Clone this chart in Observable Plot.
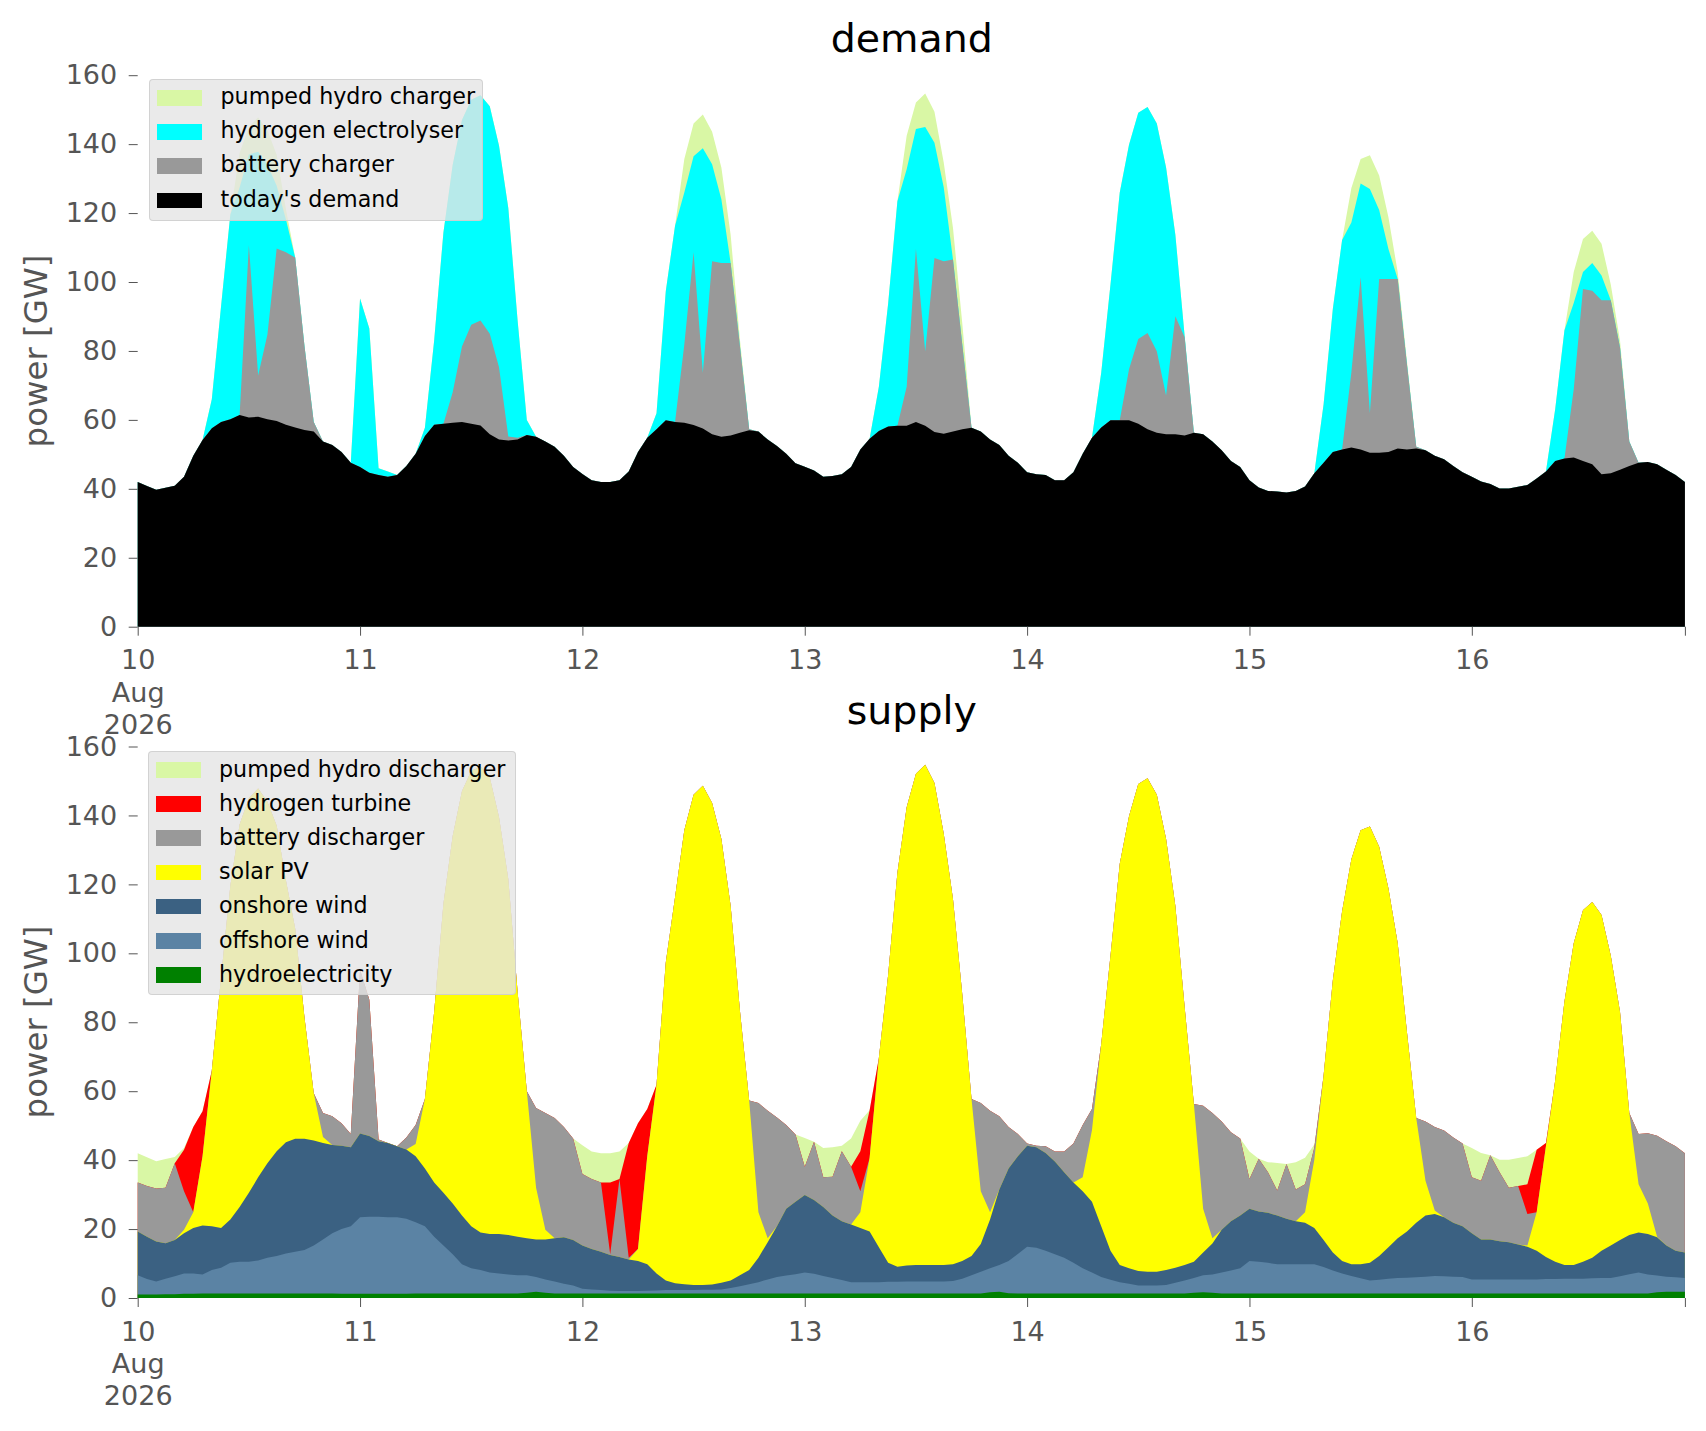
<!DOCTYPE html>
<html>
<head>
<meta charset="utf-8">
<script src="https://cdn.jsdelivr.net/npm/d3@7"></script>
<script src="https://cdn.jsdelivr.net/npm/@observablehq/plot@0.6"></script>
<style>
html,body{margin:0;padding:0;background:#fff;}
#root{position:relative;width:1706px;height:1431px;overflow:hidden;font-family:"DejaVu Sans",sans-serif;}
.panel{position:absolute;left:0;}
.legend{position:absolute;background:rgba(229,229,229,0.8);border:1px solid rgba(204,204,204,0.8);border-radius:4px;box-sizing:border-box;}
.legend .sw{position:absolute;width:45px;height:15.5px;}
.legend .lb{position:absolute;font-size:22.2px;line-height:1;color:#000;white-space:nowrap;}
.ylab{position:absolute;font-size:32.4px;line-height:1;color:#555555;white-space:nowrap;transform:translate(-50%,-50%) rotate(-90deg);}
</style>
</head>
<body>
<div id="root"></div>
<script>
// ---------- time axis (hourly, 10 Aug 2026 00:00 .. 16 Aug 2026 23:00) ----------
const startMs = Date.UTC(2026, 7, 10);
const dates = d3.range(168).map(h => new Date(startMs + h * 3600000));
const xTickDates = [0, 24, 48, 72, 96, 120, 144, 167].map(h => dates[h]);
const xTickLabels = ["10\nAug\n2026", "11", "12", "13", "14", "15", "16", ""];
const yTicks = [0, 20, 40, 60, 80, 100, 120, 140, 160];
const yLabel = "power [GW]";

// ---------- DEMAND (GW) ----------
const demandNames = ["today's demand", "battery charger", "hydrogen electrolyser", "pumped hydro charger"];
const demandColors = ["#000000", "#999999", "#00ffff", "#d9f7a5"];

const todaysDemand = [
42.0,40.8,39.7,40.3,40.9,43.5,49.6,54.2,57.6,59.4,60.2,61.4,60.7,60.9,60.2,59.7,58.6,57.8,57.1,56.6,53.7,52.7,50.7,47.6,
46.3,44.7,44.0,43.5,44.0,46.6,50.2,55.3,58.6,58.9,59.2,59.4,58.9,58.4,55.8,54.3,54.0,54.3,55.6,55.1,53.7,52.2,49.6,46.3,
44.3,42.5,42.0,42.0,42.5,45.0,50.7,54.8,57.3,59.9,59.4,59.2,58.5,57.5,55.8,55.1,55.5,56.3,57.0,56.6,54.3,52.4,50.2,47.4,
46.4,45.3,43.5,43.7,44.2,46.3,51.4,54.5,56.8,58.1,58.3,58.3,59.4,58.3,56.5,56.0,56.6,57.3,57.7,56.6,54.3,52.7,49.6,47.6,
44.8,44.2,44.0,42.5,42.5,44.8,50.2,54.8,57.8,59.9,59.9,59.9,58.9,57.3,56.3,55.8,55.8,55.5,56.3,55.8,53.7,51.2,48.1,46.3,
42.5,40.4,39.4,39.2,38.9,39.4,40.7,44.5,47.6,50.7,51.4,52.0,51.4,50.5,50.5,50.7,51.7,51.4,51.7,51.2,49.6,48.6,46.6,44.8,
43.5,42.1,41.4,40.1,40.1,40.6,41.1,43.0,45.0,48.1,48.8,49.1,48.1,47.1,44.2,44.5,45.5,46.6,47.6,47.8,47.1,45.5,44.0,42.0];

const batteryCharger = [
0,0,0,0,0,0,0,0,0,0,0,0,50,12,24.5,50,50,49.3,24.3,2.8,0,0,0,0,
0,0,0,0,0,0,0,0,0,0,8.8,21.9,28.7,30.4,29.2,21,1.2,0.5,0,0,0,0,0,0,
0,0,0,0,0,0,0,0,0,0,0,22.7,50.1,16.2,50.2,50.4,50,25.1,0.3,0,0,0,0,0,
0,0,0,0,0,0,0,0,0,0,0,11.3,50.2,21.6,50.5,50,49.9,24.6,0,0,0,0,0,0,
0,0,0,0,0,0,0,0,0,0,0,14.8,24.6,27.9,23.6,11.3,34.3,28.5,0,0,0,0,0,0,
0,0,0,0,0,0,0,0,0,0,0,21.8,50,11.5,50.4,50.2,49.2,24.7,0.5,0,0,0,0,0,
0,0,0,0,0,0,0,0,0,0,0,19.8,49.9,50.4,50.5,50.2,35.4,7.1,0,0,0,0,0,0];

const hydrogenElectrolyser = [
0,0,0,0,0,0,0,0,8.4,33.6,59.4,66,26.3,64.9,49.3,18.2,9.5,0,0,0,0,0,0,0,
48.9,41.8,2,1.5,0,0,0,2.4,24.4,55.5,66,65.7,65.3,65.4,66,64.2,66.3,34.2,4.4,0,0,0,0,0,
0,0,0,0,0,0,0,0,4.6,37.4,56.9,44.1,27.9,65.1,28.2,18.5,0,0,0,0,0,0,0,0,
0,0,0,0,0,0,0,0,12.8,35.6,65.1,63.1,34.8,65.1,33.4,21.5,0,0,0,0,0,0,0,0,
0,0,0,0,0,0,0,0,15.9,39.4,66.1,65.1,65.6,65.6,66.1,66.1,23.6,0.5,0,0,0,0,0,0,
0,0,0,0,0,0,0,0,16.9,41.5,60.8,43.5,27.2,65,20,8.7,0,0,0,0,0,0,0,0,
0,0,0,0,0,0,0,0,0,15,37.2,25,4.9,8,7.2,0,0,0,0,0,0,0,0,0];

const pumpedHydroCharger = [
0,0,0,0,0,0,0,0,0,0,0,10,8,10,10,9,3,0,0,0,0,0,0,0,
0,0,0,0,0,0,0,0,0,0,0,0,0,0,0,0,0,0,0,0,0,0,0,0,
0,0,0,0,0,0,0,0,0,0,0,9.7,9.5,9.8,9.4,9.2,8.2,2,0,0,0,0,0,0,
0,0,0,0,0,0,0,0,0,0,0,9.7,7.7,9.7,9,7.2,9.2,6.2,0,0,0,0,0,0,
0,0,0,0,0,0,0,0,0,0,0,0,0,0,0,0,0,0,0,0,0,0,0,0,
0,0,0,0,0,0,0,0,0,0,0,10,7.1,9.8,10,9.2,2,1,0,0,0,0,0,0,
0,0,0,0,0,0,0,0,0,0,0,9,9.6,9.4,9.2,4.6,2,0,0,0,0,0,0,0];

// ---------- SUPPLY (GW) ----------
const supplyNames = ["hydroelectricity", "offshore wind", "onshore wind", "solar PV", "battery discharger", "hydrogen turbine", "pumped hydro discharger"];
const supplyColors = ["#008000", "#5b83a4", "#3b6182", "#ffff00", "#999999", "#ff0000", "#d9f7a5"];

const hydroelectricity = [
1.0,1.0,1.0,1.1,1.1,1.2,1.2,1.3,1.3,1.3,1.3,1.3,1.3,1.3,1.3,1.3,1.3,1.3,1.3,1.3,1.3,1.3,1.2,1.2,
1.2,1.2,1.2,1.2,1.2,1.2,1.3,1.3,1.3,1.3,1.3,1.3,1.3,1.3,1.3,1.3,1.3,1.3,1.5,1.8,1.5,1.3,1.3,1.3,
1.3,1.3,1.3,1.3,1.3,1.3,1.3,1.3,1.3,1.3,1.3,1.3,1.3,1.3,1.3,1.3,1.3,1.3,1.3,1.3,1.3,1.3,1.3,1.3,
1.3,1.3,1.3,1.3,1.3,1.3,1.3,1.3,1.3,1.3,1.3,1.3,1.3,1.3,1.3,1.3,1.3,1.3,1.3,1.3,1.7,1.8,1.4,1.3,
1.3,1.3,1.3,1.3,1.3,1.3,1.3,1.3,1.3,1.3,1.3,1.3,1.3,1.3,1.3,1.3,1.3,1.3,1.5,1.7,1.5,1.3,1.3,1.3,
1.3,1.3,1.3,1.3,1.3,1.3,1.3,1.3,1.3,1.3,1.3,1.3,1.3,1.3,1.3,1.3,1.3,1.3,1.3,1.3,1.3,1.3,1.3,1.3,
1.3,1.3,1.3,1.3,1.3,1.3,1.3,1.3,1.3,1.3,1.3,1.3,1.3,1.3,1.3,1.3,1.3,1.3,1.3,1.3,1.7,1.8,1.8,1.8];

const offshoreWind = [
5.6,4.5,3.8,4.5,5.2,5.9,5.9,5.5,6.8,7.5,8.9,9.2,9.2,9.6,10.4,10.9,11.6,12.1,12.6,13.9,15.7,17.5,18.8,19.6,
22.2,22.4,22.4,22.2,22.2,21.8,20.7,19.5,16.5,13.9,11.4,8.5,7.3,6.8,6.1,5.8,5.5,5.3,5.1,4.3,3.9,3.5,2.8,2.3,
1.4,1.2,1.0,0.8,0.7,0.7,0.7,0.8,0.9,1.0,1.0,1.0,1.0,1.1,1.1,1.2,1.6,2.1,2.7,3.3,4.1,4.8,5.2,5.6,
6.1,5.7,5.1,4.5,3.9,3.3,3.3,3.3,3.3,3.4,3.4,3.5,3.5,3.5,3.5,3.5,3.6,4.3,5.3,6.3,6.9,7.8,9.3,11.5,
13.6,13.3,12.4,11.4,10.4,8.9,7.3,6.1,4.8,4.0,3.3,2.8,2.3,2.3,2.3,2.5,3.1,3.8,4.3,4.9,5.3,6.1,6.7,7.3,
9.4,9.2,8.9,8.5,8.5,8.5,8.5,8.5,7.7,6.7,5.8,5.1,4.4,3.8,4.0,4.3,4.5,4.6,4.7,4.9,5.1,5.0,4.9,4.8,
4.1,4.1,4.1,4.1,4.1,4.1,4.1,4.1,4.2,4.2,4.3,4.3,4.3,4.4,4.5,4.5,5.0,5.6,6.1,5.5,4.8,4.4,4.2,4.0];

const onshoreWind = [
12.7,12.3,11.6,10.3,10.5,11.7,13.2,14.2,12.7,11.5,12.6,15.9,20.0,24.1,27.4,30.4,32.3,32.8,32.3,30.5,28.0,25.6,24.2,22.9,
24.3,23.4,21.9,21.6,20.6,20.1,19.1,16.8,15.7,15.3,14.7,14.1,12.2,10.9,11.2,11.5,11.5,11.2,10.7,10.9,11.6,12.5,13.5,13.2,
12.5,11.7,11.1,10.4,9.9,9.2,8.7,7.7,4.9,2.8,2.0,1.7,1.5,1.4,1.5,1.9,2.2,3.2,4.1,7.1,10.8,14.7,19.4,21.0,
22.5,21.4,20.0,18.1,17.1,16.7,15.7,14.7,10.1,5.5,4.4,4.6,4.8,4.8,4.8,4.8,4.9,5.1,5.6,8.1,14.2,21.9,26.9,28.3,
29.3,29.1,28.4,26.9,24.8,23.3,22.4,20.5,14.7,8.4,5.0,4.5,4.2,4.0,4.0,4.3,4.4,4.5,4.7,6.6,9.0,12.4,14.3,15.3,
15.2,14.6,14.5,14.1,13.2,12.5,12.0,10.5,7.8,5.2,3.6,3.4,4.1,5.1,6.9,9.1,11.5,13.4,15.8,17.7,18.0,17.1,15.6,14.7,
13.4,11.6,11.6,11.1,10.8,10.1,9.5,8.3,6.4,5.0,4.0,4.0,4.9,6.0,7.9,9.4,10.5,11.4,11.6,11.8,11.1,9.0,7.7,7.4];

const solarPV = [
0,0,0,0,0,1.0,4.6,20.1,45.2,72.7,96.8,111,114.5,112.8,104.9,94.4,75.9,60.9,35.2,13.7,1.7,0,0,0,
0,0,0,0,0,0,3.6,20.1,49.5,83.9,106.6,123.1,132.1,135.2,132.4,120.9,103.2,71.2,42.7,15,2.8,0,0,0,
0,0,0,0,0,0,3.5,31.3,54.8,92.2,112.0,131.7,142.2,144.8,139.7,128.8,108.6,76.8,49.2,13.2,1.1,0,0,0,
0,0,0,0,0,0,4.6,21.3,54.9,83.5,114.3,133,142.5,145.1,139.8,125.1,105.9,77.4,45.5,15.3,2.1,0,0,0,
0,0,0,0,0,0,4.0,20.8,52.9,85.6,116.4,131.2,141.3,143.2,138.4,125.1,104.9,74.9,45.8,12.7,1.5,0,0,0,
0,0,0,0,0,0,3.1,19.8,47.7,79.0,101.5,117.5,125.9,126.6,118.7,104.1,85.6,57.8,30.4,10.1,1.0,0,0,0,
0,0,0,0,0,0,0.3,11.2,32.1,52.6,76.4,93.3,102,103.2,97.4,84.1,66.1,35.4,14,8.8,0.2,0,0,0];

const batteryDischarger = [
14.2,14.7,15.4,16.1,22.3,11.2,0,0,0,0,0,0,0,0,0,0,0,0,0,0,7.0,8.3,6.5,3.9,
47.5,39.5,0.5,0,0,3.5,5.5,0,0,0,0,0,0,0,0,0,0,0,0,23.1,33.9,34.9,32.0,29.5,
20.8,20.3,20.1,0.2,22.6,0.5,0,0,0,0,0,0,0,0,0,0,0,0,0,31.7,37.0,31.6,24.3,19.5,
8.2,16.9,8.6,11.3,20.3,16.8,6.1,0,0,0,0,0,0,0,0,0,0,0,0,25.6,29.4,21.2,12.0,6.5,
0.6,0.5,1.9,2.9,6.0,11.3,15.2,6.1,0,0,0,0,0,0,0,0,0,0,0,29.9,36.4,31.4,25.8,22.4,
8.6,15.3,11.8,7.3,15.9,9.2,8.1,3.5,0,0,0,0,0,0,0,0,0,0,0,17.2,24.2,25.2,24.8,24.0,
16.2,17.0,24.4,20.0,15.8,17.0,9.2,0,0,0,0,0,0,0,0,0,0,0,14.6,20.4,29.3,30.3,30.3,28.8];

const hydrogenTurbine = [
0,0,0,0,0,12.0,24.7,13.1,0,0,0,0,0,0,0,0,0,0,0,0,0,0,0,0,
0,0,0,0,0,0,0,0,0,0,0,0,0,0,0,0,0,0,0,0,0,0,0,0,
0,0,0,20.8,0,33.3,36.5,13.7,0,0,0,0,0,0,0,0,0,0,0,0,0,0,0,0,
0,0,0,0,0,0,11.6,13.9,0,0,0,0,0,0,0,0,0,0,0,0,0,0,0,0,
0,0,0,0,0,0,0,0,0,0,0,0,0,0,0,0,0,0,0,0,0,0,0,0,
0,0,0,0,0,0,0,0,0,0,0,0,0,0,0,0,0,0,0,0,0,0,0,0,
0,0,0,0,0,0,8.6,18.1,1.0,0,0,0,0,0,0,0,0,0,0,0,0,0,0,0];

const pumpedHydroDischarger = [
8.5,8.3,7.9,8.3,1.8,0.5,0,0,0,0,0,0,0,0,0,0,0,0,0,0,0,0,0,0,
0,0,0,0,0,0,0,0,0,0,0,0,0,0,0,0,0,0,0,0,0,0,0,0,
8.3,8.0,8.5,8.5,8.0,0,0,0,0,0,0,0,0,0,0,0,0,0,0,0,0,0,0,0,
8.3,0,8.5,8.5,1.6,8.2,8.8,0,0,0,0,0,0,0,0,0,0,0,0,0,0,0,0,0,
0,0,0,0,0,0,0,0,0,0,0,0,0,0,0,0,0,0,0,0,0,0,0,0,
8.0,0,2.9,8.0,0,7.9,7.7,0.9,0,0,0,0,0,0,0,0,0,0,0,0,0,0,0,0,
8.5,8.1,0,3.6,8.1,8.1,8.1,0,0,0,0,0,0,0,0,0,0,0,0,0,0,0,0,0];

// ---------- drawing ----------
const root = document.getElementById("root");
const tickLabelOf = new Map(xTickDates.map((d, i) => [+d, xTickLabels[i]]));

function makePanel(cfg) {
  // cumulative layers (bottom -> top); each drawn from 0 so adjacent layers have no seams
  let cum = dates.map(() => 0);
  const layers = cfg.arrays.map((arr, i) => {
    cum = cum.map((c, h) => c + arr[h]);
    return {name: cfg.names[i], color: cfg.colors[i], rows: dates.map((d, h) => ({date: d, top: cum[h]}))};
  });
  const areaMarks = layers.slice().reverse().map(l =>
    Plot.areaY(l.rows, {x: "date", y1: 0, y2: "top", fill: l.color}));

  const chart = Plot.plot({
    width: 1706,
    height: cfg.height,
    marginLeft: 137.7,
    marginRight: 21.1,
    marginTop: cfg.marginTop,
    marginBottom: cfg.marginBottom,
    style: {fontFamily: "DejaVu Sans, sans-serif", fontSize: "27px", color: "#555555", background: "transparent", overflow: "visible"},
    x: {type: "utc", domain: [dates[0], dates[167]]},
    y: {domain: [0, 160]},
    marks: [
      ...areaMarks,
      Plot.axisY({ticks: yTicks, tickSize: 9, tickPadding: 12, fontSize: 27, label: null, color: "#555555"}),
      Plot.axisX({ticks: xTickDates, tickFormat: d => tickLabelOf.get(+d), tickSize: 9, tickPadding: 10,
                  fontSize: 27, lineHeight: 1.2, label: null, color: "#555555"}),
      Plot.text([cfg.title], {text: d => d, frameAnchor: "top", dy: -23.5, lineAnchor: "bottom", fontSize: 39.5, fill: "#000000"})
    ]
  });
  const wrap = document.createElement("div");
  wrap.className = "panel";
  wrap.style.top = cfg.top + "px";
  wrap.appendChild(chart);
  root.appendChild(wrap);

  // y-axis label, centred on the frame
  const yl = document.createElement("div");
  yl.className = "ylab";
  yl.textContent = yLabel;
  Object.assign(yl.style, {left: "35.5px", top: (cfg.top + cfg.marginTop + (cfg.height - cfg.marginTop - cfg.marginBottom) / 2) + "px"});
  root.appendChild(yl);

  // legend (top of stack listed first)
  const lg = document.createElement("div");
  lg.className = "legend";
  Object.assign(lg.style, {left: cfg.legend.left + "px", top: cfg.legend.top + "px",
    width: cfg.legend.width + "px", height: cfg.legend.height + "px"});
  layers.slice().reverse().forEach((l, i) => {
    const sw = document.createElement("div");
    sw.className = "sw";
    Object.assign(sw.style, {left: cfg.legend.swLeft + "px", top: (cfg.legend.swTop + i * 34.2) + "px", background: l.color});
    const lb = document.createElement("div");
    lb.className = "lb";
    Object.assign(lb.style, {left: cfg.legend.txtLeft + "px", top: (cfg.legend.txtTop + i * 34.2) + "px"});
    lb.textContent = l.name;
    lg.appendChild(sw);
    lg.appendChild(lb);
  });
  root.appendChild(lg);
}

makePanel({
  title: "demand", top: 0, height: 745, marginTop: 75.2, marginBottom: 118.3,
  names: demandNames, colors: demandColors,
  arrays: [todaysDemand, batteryCharger, hydrogenElectrolyser, pumpedHydroCharger],
  legend: {left: 148.5, top: 78.6, width: 334.5, height: 142.5, swLeft: 7, swTop: 10.5, txtLeft: 71, txtTop: 5.5}
});
makePanel({
  title: "supply", top: 670, height: 761, marginTop: 76.5, marginBottom: 133,
  names: supplyNames, colors: supplyColors,
  arrays: [hydroelectricity, offshoreWind, onshoreWind, solarPV, batteryDischarger, hydrogenTurbine, pumpedHydroDischarger],
  legend: {left: 148, top: 751, width: 368, height: 244, swLeft: 7, swTop: 10, txtLeft: 70, txtTop: 5.5}
});
</script>
</body>
</html>
